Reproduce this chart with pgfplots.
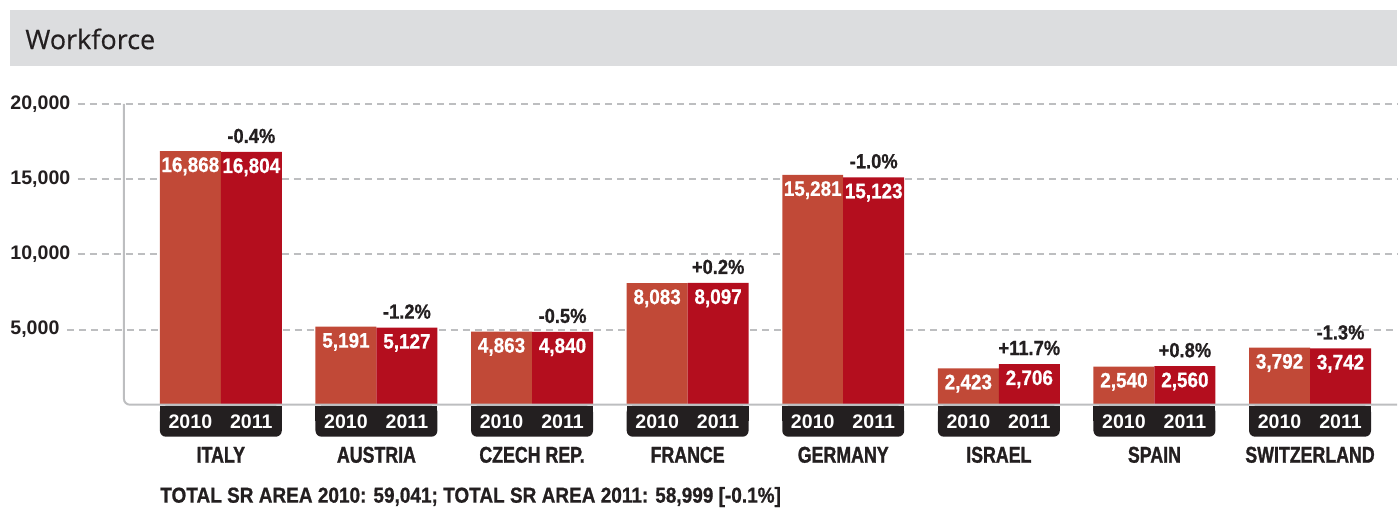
\documentclass[border=0pt]{standalone}
\usepackage{fontspec}
\setmainfont{Liberation Sans}
\newfontfamily\titlefont{Open Sans}[FakeBold=0.4]
\newfontfamily\condA{Liberation Sans Bold}[FakeStretch=0.78, FakeBold=1.2]
\newfontfamily\condB{Liberation Sans Bold}[FakeStretch=0.9, FakeBold=0.8]
\newfontfamily\condC{Liberation Sans Bold}[FakeStretch=0.88, FakeBold=0.8]
\usepackage{pgfplots}
\pgfplotsset{compat=1.18}

\definecolor{c2010}{HTML}{C14937}
\definecolor{c2011}{HTML}{B40E1E}
\definecolor{txt}{HTML}{231F20}
\definecolor{barbg}{HTML}{DCDDDF}
\definecolor{gridc}{HTML}{BDBEC0}

\begin{document}
\begin{tikzpicture}
% pixel grid of the reference: 1px = 0.5pt, origin top left
\begin{scope}[x=0.5pt, y=-0.5pt, yshift=254pt]
  \path[use as bounding box] (0,0) rectangle (1398,508);
  \fill[barbg] (10,10) rectangle (1398,66);
  \node[anchor=west, inner sep=0, text=txt, font=\titlefont\fontsize{13.5}{14}\selectfont] at (25,39) {Workforce};
  \node[anchor=base west, inner sep=0, text=txt, font=\condC\fontsize{10.8}{12}\selectfont]
    at (160,503) {TOTAL SR AREA 2010: 59,041; TOTAL SR AREA 2011: 58,999 [-0.1\%]};
\end{scope}

\begin{axis}[
  at={(62pt,51.5pt)}, anchor=south west,
  width=637pt, height=150.5pt, scale only axis,
  xmin=-0.623, xmax=7.559, ymin=0, ymax=20000,
  axis line style={draw=none},
  ytick=\empty,
  xtick={0,...,7},
  xticklabels={ITALY, AUSTRIA, CZECH REP., FRANCE, GERMANY, ISRAEL, SPAIN, SWITZERLAND},
  major tick length=0pt,
  xticklabel style={anchor=base, yshift=-29pt, text=txt,
    font=\condA\fontsize{11.4}{12}\selectfont},
  ybar, bar width=30.5pt,
  clip=false,
  /pgf/number format/1000 sep={,},
  /pgf/number format/assume math mode=true,
  nodes near coords,
  every node near coord/.append style={anchor=base, yshift=-10.5pt, inner sep=0pt,
    text=white, font=\condB\fontsize{10.5}{12}\selectfont},
]
% grid lines with their labels
\pgfplotsinvokeforeach{5000,10000,15000,20000}{
  \node[anchor=west, inner sep=0pt, text=txt, font=\bfseries\fontsize{9.8}{11}\selectfont]
    (t) at ([xshift=-57pt]axis cs:-0.623,#1) {\pgfmathprintnumber{#1}};
  \draw[gridc, line width=1pt, dash pattern=on 3.5pt off 2.5pt]
    ([xshift=3.5pt]t.east) -- (axis cs:7.559,#1);
}

\addplot[fill=c2010, draw=none, bar shift=-15.25pt] coordinates {
  (0,16868) (1,5191) (2,4863) (3,8083) (4,15281) (5,2423) (6,2540) (7,3792)
};
\addplot[fill=c2011, draw=none, bar shift=15.25pt] coordinates {
  (0,16804) (1,5127) (2,4840) (3,8097) (4,15123) (5,2706) (6,2560) (7,3742)
};
% change labels above the 2011 bars
\addplot[draw=none, fill=none, bar shift=15.25pt, point meta=explicit symbolic,
  nodes near coords,
  every node near coord/.style={anchor=base, xshift=15.25pt, yshift=4.5pt, inner sep=0pt, text=txt,
    font=\condB\fontsize{10.2}{11}\selectfont}] coordinates {
  (0,16804)[-0.4\%] (1,5127)[-1.2\%] (2,4840)[-0.5\%] (3,8097)[+0.2\%]
  (4,15123)[-1.0\%] (5,2706)[+11.7\%] (6,2560)[+0.8\%] (7,3742)[-1.3\%]
};

% axis lines
\draw[gridc, line width=1pt, rounded corners=3pt]
  (rel axis cs:0,1) -- (rel axis cs:0,0) -- (rel axis cs:1,0);

% year boxes under each group
\pgfplotsinvokeforeach{0,...,7}{
  \fill[txt, rounded corners=3pt] ([xshift=-30.5pt,yshift=-0.6pt]axis cs:#1,0) rectangle ([xshift=30.5pt,yshift=-16pt]axis cs:#1,0);
  \fill[txt] ([xshift=-30.5pt,yshift=-0.6pt]axis cs:#1,0) rectangle ([xshift=30.5pt,yshift=-8pt]axis cs:#1,0);
  \node[anchor=base, inner sep=0pt, text=white, font=\bfseries\fontsize{9.8}{11}\selectfont]
    at ([xshift=-15.25pt,yshift=-12pt]axis cs:#1,0) {2010};
  \node[anchor=base, inner sep=0pt, text=white, font=\bfseries\fontsize{9.8}{11}\selectfont]
    at ([xshift=15.25pt,yshift=-12pt]axis cs:#1,0) {2011};
}
\end{axis}
\end{tikzpicture}
\end{document}
